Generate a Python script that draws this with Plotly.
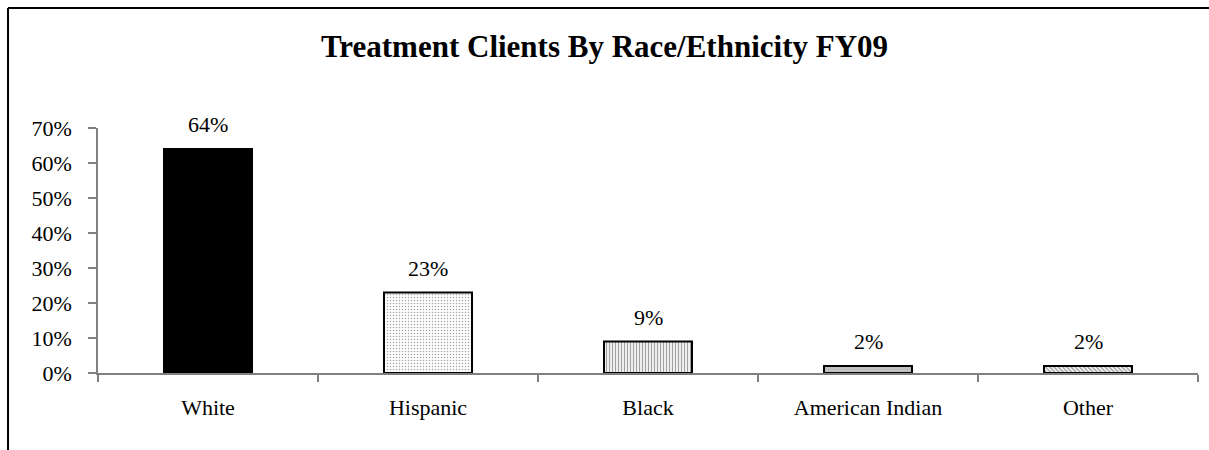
import plotly.graph_objects as go

# Share of treatment clients by race/ethnicity, FY09
categories = ["White", "Hispanic", "Black", "American Indian", "Other"]
shares = [64, 23, 9, 2, 2]
value_labels = ["64%", "23%", "9%", "2%", "2%"]
y_ticks = [0, 10, 20, 30, 40, 50, 60, 70]
y_tick_labels = ["0%", "10%", "20%", "30%", "40%", "50%", "60%", "70%"]

# per-bar fill: solid black, fine dots, vertical stripes, plain grey, diagonal hatch
fill_colors = ["#000000", "#ffffff", "#ffffff", "#c0c0c0", "#ffffff"]
pattern_shapes = ["", ".", "|", "", "\\"]
pattern_fg = ["#000000", "#a8a8a8", "#555555", "#c0c0c0", "#222222"]
pattern_size = [4, 3, 3, 4, 3]
pattern_solidity = [0.3, 0.2, 0.45, 0.3, 0.5]

FONT = "Liberation Serif, Times New Roman, serif"

fig = go.Figure()
fig.add_trace(go.Bar(
    x=categories,
    y=shares,
    width=0.4,
    marker=dict(
        color=fill_colors,
        line=dict(color="#000000", width=2),
        pattern=dict(
            shape=pattern_shapes,
            fgcolor=pattern_fg,
            bgcolor=fill_colors,
            size=pattern_size,
            solidity=pattern_solidity,
            fillmode="overlay",
        ),
    ),
    hoverinfo="x+y",
))

# value labels above each bar
for cat, val, lab in zip(categories, shares, value_labels):
    fig.add_annotation(
        x=cat, y=val, text=lab, showarrow=False,
        yanchor="bottom", yshift=10,
        font=dict(family=FONT, size=22, color="#000000"),
    )

# outer chart frame (top and left edges visible)
fig.add_shape(type="line", xref="paper", yref="paper",
              x0=-0.0818, x1=1.02, y0=1.4898, y1=1.4898,
              line=dict(color="#000000", width=2))
fig.add_shape(type="line", xref="paper", yref="paper",
              x0=-0.0818, x1=-0.0818, y0=1.4898, y1=-0.4,
              line=dict(color="#000000", width=2))

fig.update_layout(
    width=1209, height=450,
    margin=dict(l=98, r=11, t=128, b=77),
    paper_bgcolor="#ffffff",
    plot_bgcolor="#ffffff",
    showlegend=False,
    title=dict(
        text="<b>Treatment Clients By Race/Ethnicity FY09</b>",
        x=0.5, xanchor="center", xref="container",
        y=1 - 46 / 450, yref="container", yanchor="middle",
        font=dict(family=FONT, size=31, color="#000000"),
    ),
    font=dict(family=FONT, size=22, color="#000000"),
)

fig.update_xaxes(
    type="category",
    showline=True, linecolor="#808080", linewidth=1.5,
    ticks="outside", tickson="boundaries", ticklen=7, tickcolor="#808080", tickwidth=1.5,
    tickfont=dict(family=FONT, size=22, color="#000000"),
    ticklabelstandoff=14,
    showgrid=False, zeroline=False,
)
fig.update_yaxes(
    range=[0, 70],
    tickvals=y_ticks, ticktext=y_tick_labels,
    showline=True, linecolor="#808080", linewidth=1.5,
    ticks="outside", ticklen=8, tickcolor="#808080", tickwidth=1.5,
    tickfont=dict(family=FONT, size=22, color="#000000"),
    ticklabelstandoff=12,
    showgrid=False, zeroline=False,
)

fig.write_html("out.html")
